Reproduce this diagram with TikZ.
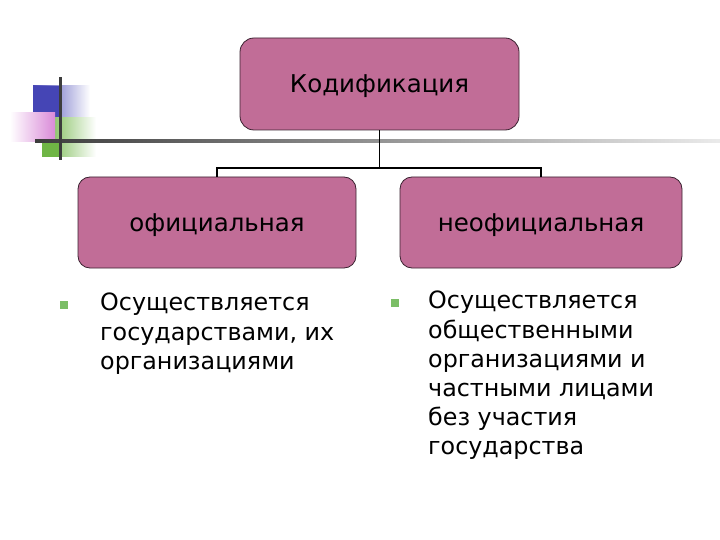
\documentclass[tikz,border=0pt]{standalone}
\usepackage{fontspec}
\setmainfont{DejaVu Sans}
\usetikzlibrary{positioning}
\definecolor{boxmauve}{HTML}{C16D97}
\definecolor{boxline}{HTML}{3A2230}
\definecolor{bulletgreen}{HTML}{7BBE66}
\definecolor{decoblue}{HTML}{4545B5}
\definecolor{decopink}{HTML}{D98AD8}
\definecolor{decogreen}{HTML}{6FB545}
\definecolor{ruledark}{HTML}{3C3C3C}
\newcommand{\boxtext}{\fontsize{24.5}{28}\selectfont}
\newcommand{\itemtext}{\fontsize{23.8}{29.2}\selectfont}

\tikzset{
  mauvebox/.style={draw=boxline,fill=boxmauve,rounded corners=14pt,line width=0.8pt,align=center,text depth=0pt,font=\boxtext},
  linker/.style={draw=black,line width=1.3pt},
  itembox/.style={anchor=north west,align=left,inner sep=0pt,font=\itemtext},
  bullet/.style={fill=bulletgreen,minimum size=7.5pt,inner sep=0pt}
}

\begin{document}
\begin{tikzpicture}[x=1pt,y=-1pt]
\useasboundingbox (0,0) rectangle (720,540);
% corner decoration
\shade[left color=decoblue,right color=white] (33,86) rectangle (90,119);
\fill[decoblue] (33,86) rectangle (60,119);
\shade[left color=decogreen,right color=white] (42,118) rectangle (96,157);
\fill[decogreen] (42,142) rectangle (60,157);
\shade[left color=white,right color=decopink] (10,113) rectangle (55,142);
\shade[left color=ruledark,right color=white!92!black] (35,140) rectangle (720,142.5);
\fill[ruledark] (59,77) rectangle (61.5,160);

% hierarchy
\node[mauvebox,minimum width=279pt,minimum height=92pt] (kod) at (379.5,84) {Кодификация};
\node[mauvebox,minimum width=278pt,minimum height=91pt,rounded corners=12pt] (off) at (217,222.5) {официальная};
\node[mauvebox,minimum width=282pt,minimum height=91pt,rounded corners=12pt] (neoff) at (541,222.5) {неофициальная};
\coordinate (split) at (379.5,168);
\draw[linker] (kod.south) -- (split);
\draw[linker] (off.north) |- (split) -| (neoff.north);

% bullet items
\node[bullet] (b1) at (64,305) {};
\node[itembox] (t1) at (100,293) {Осуществляется\\государствами, их\\организациями};
\node[bullet] (b2) at (395,303) {};
\node[itembox] (t2) at (428,291) {Осуществляется\\общественными\\организациями и\\частными лицами\\без участия\\государства};
\end{tikzpicture}
\end{document}
